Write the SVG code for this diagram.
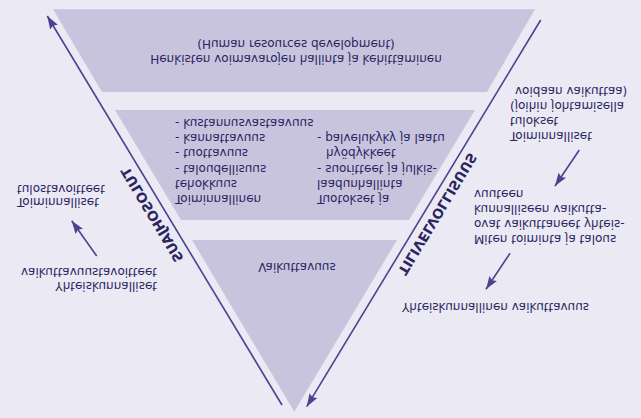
<svg xmlns="http://www.w3.org/2000/svg" width="641" height="418" viewBox="0 0 641 418">
<defs>
<style>
.bg{fill:#EBE9F4}
.band{fill:#C9C4DE}
.t{font-family:"DejaVu Sans","Liberation Sans",sans-serif;font-size:12px;fill:#2A2560}
.mid{text-anchor:middle}
.end{text-anchor:end}
.lbl{font-family:"DejaVu Sans","Liberation Sans",sans-serif;font-size:13.5px;font-weight:bold;fill:#2A2560;text-anchor:middle}
.ln{stroke:#4B4290;stroke-width:1.6;fill:none}
</style>
<marker id="ah" markerUnits="userSpaceOnUse" markerWidth="14" markerHeight="10" refX="13" refY="4.5" orient="auto">
<path d="M0,0 L13,4.5 L0,9 L2,4.5 z" fill="#4B4290"/>
</marker>
</defs>
<rect class="bg" x="0" y="0" width="641" height="418"/>
<g transform="matrix(1 0 0 -1 0 418)">
<g id="band-hrd">
<polygon class="band" points="53,408.7 535,408.7 487,326 102,326"/>
<text class="t mid" x="296" y="363">Henkisten voimavarojen hallinta ja kehittäminen</text>
<text class="t mid" x="296" y="378.5">(Human resources development)</text>
</g>
<g id="band-efficiency">
<polygon class="band" points="115,308 475,308 409,198 181,198"/>
<text class="t" x="175" y="223">Toiminnallinen</text>
<text class="t" x="175" y="238.2">tehokkuus</text>
<text class="t" x="175" y="253.4">- taloudellisuus</text>
<text class="t" x="175" y="268.6">- tuottavuus</text>
<text class="t" x="175" y="283.8">- kannattavuus</text>
<text class="t" x="175" y="299">- kustannusvastaavuus</text>
<text class="t" x="317" y="223">Tuotokset ja</text>
<text class="t" x="317" y="238.2">laadunhallinta</text>
<text class="t" x="317" y="253.4">- suoritteet ja julkis-</text>
<text class="t" x="326" y="268.6">hyödykkeet</text>
<text class="t" x="317" y="283.8">- palvelukyky ja laatu</text>
</g>
<g id="band-impact">
<polygon class="band" points="192,178 397,178 294.3,6.3"/>
<text class="t mid" x="297" y="154.7">Vaikuttavuus</text>
</g>
<g id="label-tulosohjaus">
<text class="lbl" transform="translate(156.3,205.6) rotate(-59)">TULOSOHJAUS</text>
</g>
<g id="label-tilivelvollisuus">
<text class="lbl" transform="translate(433.4,206.6) rotate(59)">TILIVELVOLLISUUS</text>
</g>
<g id="goals-operational">
<text class="t" x="17" y="219.7">Toiminnalliset</text>
<text class="t" x="17" y="233">tulostavoitteet</text>
</g>
<g id="goals-societal">
<text class="t end" x="157" y="136.3">Yhteiskunnalliset</text>
<text class="t end" x="157" y="149.7">vaikuttavuustavoitteet</text>
</g>
<g id="results-operational">
<text class="t" x="510" y="286.3">Toiminnalliset</text>
<text class="t" x="510" y="301.3">tulokset</text>
<text class="t" x="510" y="316.3">(joihin johtamisella</text>
<text class="t" x="515" y="331.3">voidaan vaikuttaa)</text>
</g>
<g id="question-impact">
<text class="t" x="474" y="183">Miten toiminta ja talous</text>
<text class="t" x="474" y="198">ovat vaikuttaneet yhteis-</text>
<text class="t" x="474" y="213">kunnalliseen vaikutta-</text>
<text class="t" x="474" y="228">vuuteen</text>
</g>
<g id="societal-impact">
<text class="t" x="402" y="115.3">Yhteiskunnallinen vaikuttavuus</text>
</g>
<g id="connectors">
<line class="ln" x1="282" y1="13" x2="47.3" y2="402" marker-end="url(#ah)"/>
<line class="ln" x1="540.7" y1="398" x2="306.7" y2="11.3" marker-end="url(#ah)"/>
<line class="ln" x1="96.7" y1="162" x2="71.7" y2="197.3" marker-end="url(#ah)"/>
<line class="ln" x1="579.3" y1="268" x2="555" y2="232" marker-end="url(#ah)"/>
<line class="ln" x1="510" y1="164.7" x2="486" y2="128.7" marker-end="url(#ah)"/>
</g>
</g>
</svg>
